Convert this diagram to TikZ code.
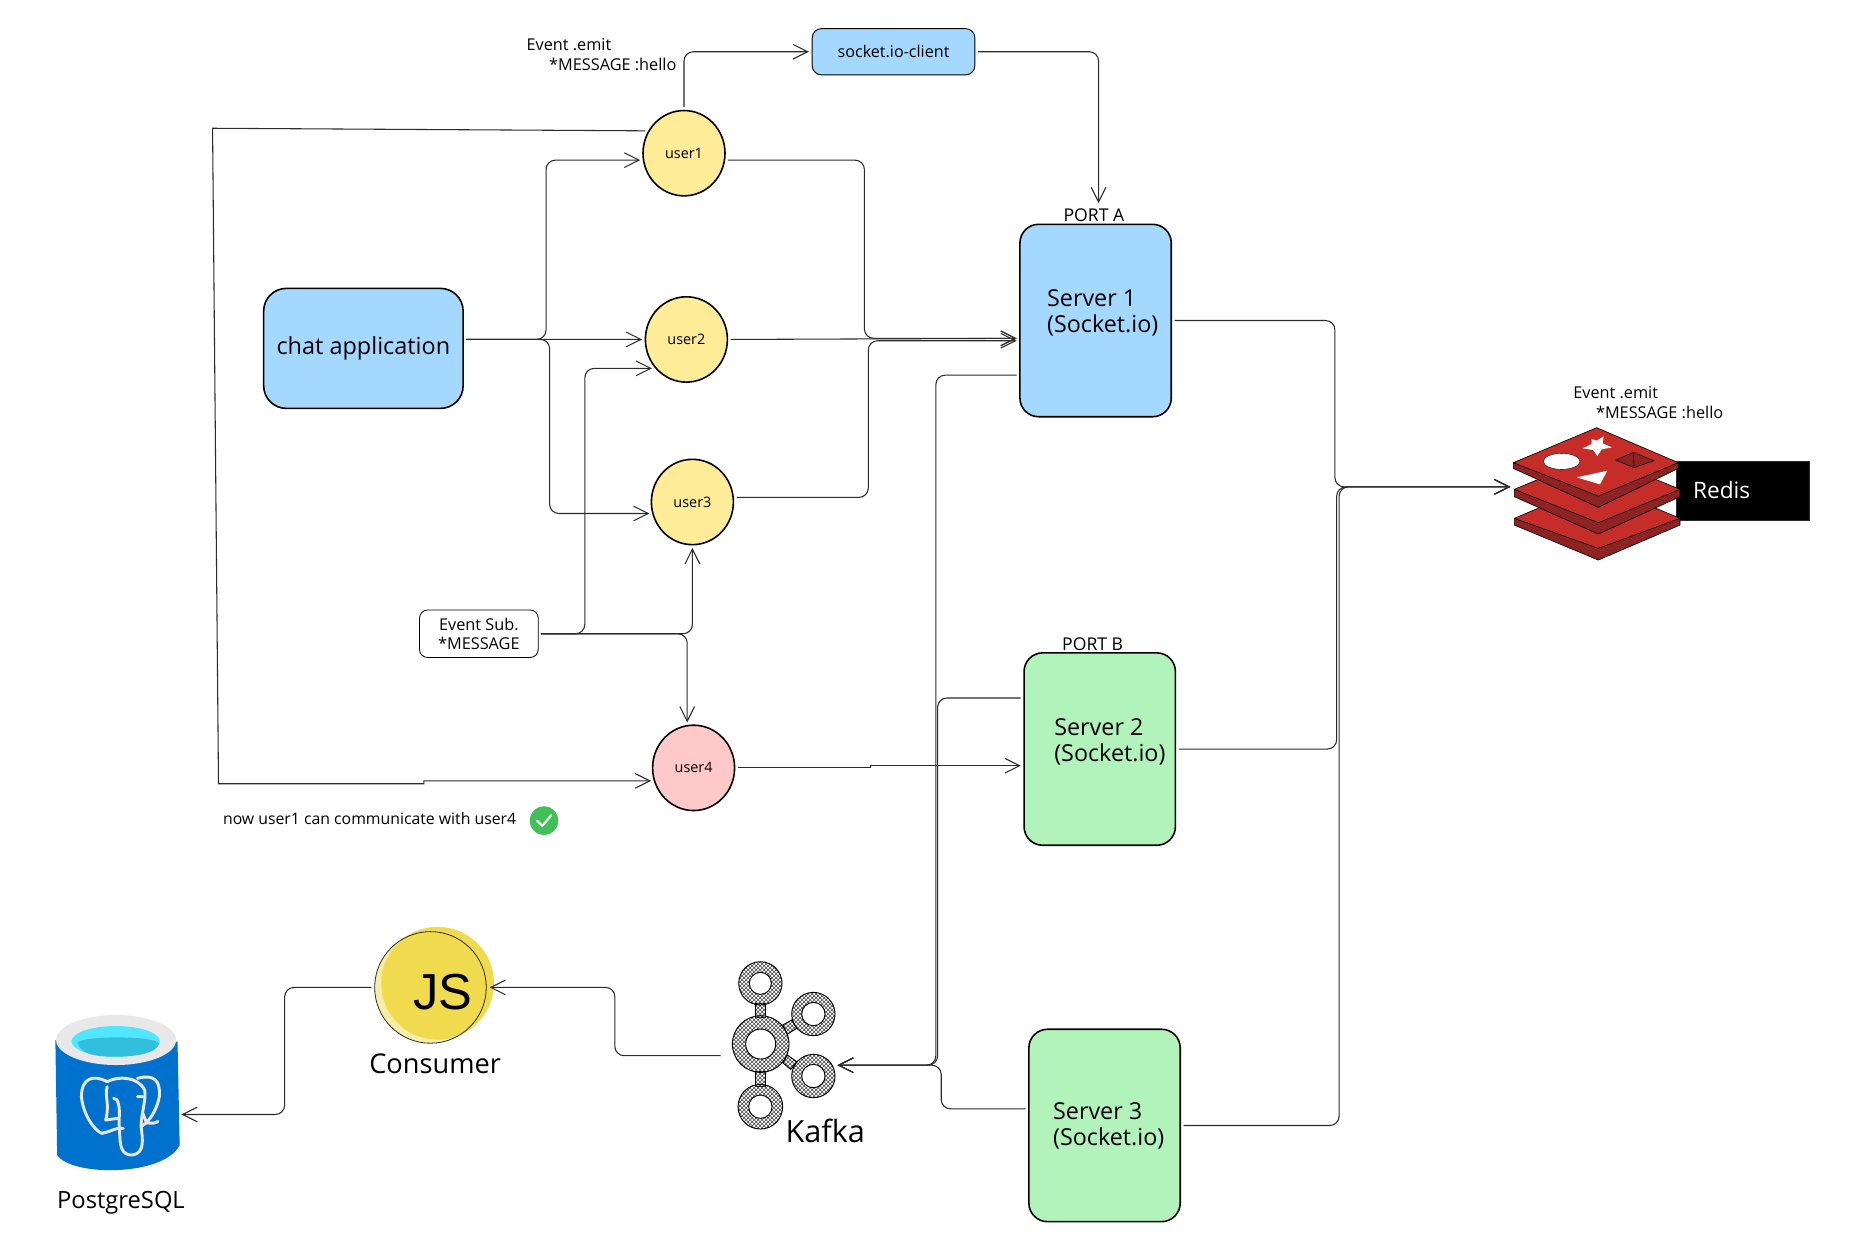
\documentclass[tikz,border=0pt]{standalone}
\usepackage{fontspec}
\setmainfont{Open Sans}
\newfontfamily\jsfont{Liberation Sans}
\usetikzlibrary{shapes.geometric, arrows.meta, positioning, calc, patterns}
\definecolor{inkline}{HTML}{2B2B2B}
\definecolor{skyfill}{HTML}{A5D8FF}
\definecolor{mintfill}{HTML}{B2F2BB}
\definecolor{sandfill}{HTML}{FFEC99}
\definecolor{rosefill}{HTML}{FFC9C9}
\definecolor{okgreen}{HTML}{40C057}
\definecolor{jsyellow}{HTML}{F0DB4F}
\definecolor{jspale}{HTML}{F8EDA8}
\definecolor{pgblue}{HTML}{0072CE}
\definecolor{pgring}{HTML}{E8E8E8}
\definecolor{pgcyan}{HTML}{50E6FF}
\definecolor{pgteal}{HTML}{32BEDD}
\definecolor{redisred}{HTML}{C62D28}
\definecolor{redisdark}{HTML}{8F2323}
\tikzset{
  >={Straight Barb[length=11pt,width=11pt]},
  link/.style={->, draw=inkline, line width=.8pt, rounded corners=7pt},
  userdot/.style={ellipse, draw=black, line width=1.2pt, inner sep=0pt, outer sep=2.5pt,
    minimum width=61.5pt, minimum height=64pt, font=\fontsize{10.8}{12}\selectfont},
  srvbox/.style={rectangle, draw=black, line width=1.2pt, rounded corners=14pt, inner sep=0pt,
    outer sep=2.5pt, minimum width=113.5pt, minimum height=144.3pt},
  srvtext/.style={inner sep=0pt, align=left, font=\fontsize{17.5}{19.6}\selectfont},
  smalltag/.style={inner sep=0pt, align=left, font=\fontsize{12.2}{14.5}\selectfont},
  plate/.style={fill=redisred, draw=black, line width=.5pt, line join=round},
  plateside/.style={fill=redisdark, draw=black, line width=.5pt, line join=round},
  ring/.style={pattern=crosshatch, pattern color=black!75, draw=black, line width=.7pt, even odd rule},
  trunkline/.style={draw=pgring, line width=2.2pt, line cap=round, line join=round},
}
\begin{document}
\begin{tikzpicture}[x=0.890625pt,y=-0.890625pt]
  \useasboundingbox (0,0) rectangle (1568,1049.25);

  \node (user1) at (576,129) [userdot, fill=sandfill] {user1};
  \node (user2) [userdot, fill=sandfill, below=70.7pt of user1, xshift=1.8pt] {user2};
  \node (user3) [userdot, fill=sandfill, below=52.9pt of user2, xshift=4.5pt] {user3};
  \node (user4) [userdot, fill=rosefill, below=130.4pt of user3, xshift=.9pt] {user4};
  \node (app) [draw=black, line width=1.2pt, fill=skyfill, rounded corners=17pt, inner sep=0pt, outer sep=2.5pt,
    minimum width=149.6pt, minimum height=90pt, font=\fontsize{17.6}{18}\selectfont,
    left=131.7pt of user2, yshift=-6.7pt] {chat application};
  \node (socket) [draw=black, line width=.7pt, fill=skyfill, rounded corners=7pt, inner sep=0pt, outer sep=2.5pt,
    minimum width=122pt, minimum height=34.7pt, font=\fontsize{12.1}{13}\selectfont,
    right=60.4pt of user1, yshift=76.1pt] {socket.io-client};
  \node (srv1) [srvbox, fill=skyfill, right=214.4pt of user2, yshift=14.2pt,
    label={[srvtext, xshift=5.3pt, yshift=5.4pt]center:Server 1\\(Socket.io)}] {};
  \node (srv2) [srvbox, fill=mintfill, below=172.1pt of srv1, xshift=3.1pt,
    label={[srvtext, xshift=7.6pt, yshift=5.4pt]center:Server 2\\(Socket.io)}] {};
  \node (srv3) [srvbox, fill=mintfill, below=133pt of srv2, xshift=3.6pt,
    label={[srvtext, xshift=3.1pt, yshift=-.4pt]center:Server 3\\(Socket.io)}] {};
  \node (porta) [inner sep=0pt, font=\fontsize{13.2}{14}\selectfont, above=-1pt of srv1, xshift=-1.3pt] {PORT A};
  \node (portb) [inner sep=0pt, font=\fontsize{13.2}{14}\selectfont, above=-1pt of srv2, xshift=-5.3pt] {PORT B};
  \node (event) [draw=black, line width=.6pt, fill=white, rounded corners=6pt, inner sep=0pt, outer sep=2pt,
    minimum width=89pt, minimum height=35.6pt, smalltag, align=center,
    left=80.4pt of user3, yshift=-98.8pt] {Event Sub.\\*MESSAGE};
  \node (emitone) [smalltag, above=27.5pt of user1, xshift=-61.9pt] {Event .emit\\\hspace*{17pt}*MESSAGE :hello};

  \node (note) [inner sep=0pt, font=\fontsize{11.85}{13}\selectfont, below=-1.5pt of user4, xshift=-243pt] {now user1 can communicate with user4};
  \node (done) [circle, fill=okgreen, inner sep=0pt, minimum size=21.4pt, right=9.8pt of note, yshift=-1.8pt] {};
  \draw [white, line width=1.6pt, line cap=round, line join=round]
    ($(done)+(-6,0)$) -- ($(done)+(-1.5,4.5)$) -- ($(done)+(6,-4.5)$);

  \node (redisbar) at (1467.8,413) [fill=black, draw=inkline, inner sep=0pt, minimum width=99.5pt, minimum height=44.5pt,
    label={[white, font=\fontsize{17}{18}\selectfont, xshift=-16pt]center:Redis}] {};
  \node (redis) at (1344,410) [inner sep=0pt, minimum width=128.2pt, minimum height=106.9pt] {};
  \node (emittwo) [smalltag, above=-2.5pt of redis, xshift=39.2pt] {Event .emit\\\hspace*{17pt}*MESSAGE :hello};
  \begin{scope}[shift={(1246.3,311.6)}, scale=.2807]
    \path [plateside] (103,445) -- (103,465) -- (355,570) -- (600,465) -- (600,445) -- cycle;
    \path [plate] (103,445) -- (350,340) -- (600,445) -- (355,535) -- cycle;
    \path [plateside] (103,358) -- (103,380) -- (355,492) -- (600,380) -- (600,358) -- cycle;
    \path [plate] (103,358) -- (350,255) -- (600,358) -- (355,458) -- cycle;
    \path [plateside] (100,278) -- (100,295) -- (355,412) -- (595,295) -- (595,278) -- cycle;
    \path [plate] (100,278) -- (350,173) -- (595,278) -- (355,378) -- cycle;
    \fill [white, draw=black, line width=.3pt] (245,274) circle [x radius=55, y radius=24];
    \fill [white] (335,207) -- (350,212) -- (371,199) -- (368,220) -- (396,232) -- (365,238)
      -- (352,258) -- (340,240) -- (308,235) -- (335,222) -- cycle;
    \fill [white] (290,322) -- (382,302) -- (360,343) -- cycle;
    \path [fill=redisdark, draw=black, line width=.4pt] (407,270) -- (460,247) -- (522,272) -- (462,293) -- cycle;
    \draw [black, line width=.4pt] (460,247) -- (462,293);
  \end{scope}

  \node (kafka) at (656,880) [inner sep=0pt, minimum width=87.3pt, minimum height=124.7pt] {};
  \node (kafkaname) [inner sep=0pt, font=\fontsize{23}{25}\selectfont, below=-7pt of kafka, xshift=34.7pt] {Kafka};
  \begin{scope}[shift={(589.5,791.6)}, scale=.2807]
    \path [ring] (167,190) rectangle (195,232);
    \path [ring] (167,395) rectangle (195,438);
    \path [ring] (248,255) -- (275,240) -- (290,265) -- (262,282) -- cycle;
    \path [ring] (262,345) -- (290,365) -- (272,388) -- (248,368) -- cycle;
    \path [ring] (182,312) circle [radius=85] (182,312) circle [radius=45];
    \path [ring] (181,130) circle [radius=65] (181,130) circle [radius=33];
    \path [ring] (340,222) circle [radius=65] (340,222) circle [radius=35];
    \path [ring] (340,408) circle [radius=65] (340,408) circle [radius=35];
    \path [ring] (181,500) circle [radius=67] (181,500) circle [radius=35];
  \end{scope}

  \coordinate (jsspot) at (362.5,831.5);
  \fill [jspale] (jsspot) circle [radius=47];
  \fill [jsyellow] ($(jsspot)+(6,-3.5)$) circle [radius=47.5];
  \node (js) at (jsspot) [circle, draw=inkline, line width=.6pt, inner sep=0pt, outer sep=2.5pt, minimum size=83.7pt,
    label={[font=\jsfont\fontsize{38}{40}\selectfont, xshift=9.5pt, yshift=-3.5pt]center:JS}] {};
  \node (consumer) [inner sep=0pt, font=\fontsize{20.4}{24}\selectfont, below=5pt of js, xshift=3.5pt] {Consumer};

  \node (pg) at (98.5,920.5) [inner sep=0pt, outer sep=2.5pt, minimum width=91.7pt, minimum height=116.7pt] {};
  \node (pgname) [inner sep=0pt, font=\fontsize{17.8}{20}\selectfont, below=12.5pt of pg, xshift=3pt] {PostgreSQL};
  \begin{scope}[shift={(0,757.9)}, xscale=.3008, yscale=.2807]
    \fill [pgblue] (155,420) -- (160,765) .. controls (200,830) and (460,830) .. (503,735) -- (497,425) -- cycle;
    \fill [pgring] (325,420) circle [x radius=168, y radius=75];
    \fill [pgcyan] (324,424) circle [x radius=124, y radius=46];
    \fill [pgteal] (218,428) .. controls (225,408) and (430,405) .. (445,430)
      .. controls (440,460) and (380,470) .. (320,470) .. controls (260,470) and (225,460) .. (218,428) -- cycle;
    \draw [trunkline] (300,545) .. controls (260,522) and (228,535) .. (228,590)
      .. controls (232,640) and (262,690) .. (285,700) .. controls (310,695) and (330,680) .. (345,685);
    \draw [trunkline] (300,545) .. controls (330,528) and (385,528) .. (405,570)
      .. controls (410,600) and (395,640) .. (395,680) .. controls (400,720) and (405,760) .. (370,765)
      .. controls (340,765) and (335,740) .. (335,690) .. controls (330,660) and (340,630) .. (328,600);
    \draw [trunkline] (385,535) .. controls (430,522) and (450,540) .. (446,590)
      .. controls (440,625) and (425,650) .. (410,668) .. controls (425,672) and (440,668) .. (442,664);
    \draw [trunkline] (300,560) .. controls (292,590) and (308,610) .. (296,660);
    \draw [trunkline] (296,660) -- (330,655);
    \draw [trunkline] (385,590) -- (400,590) (400,640) -- (410,668) -- (395,680);
    \draw [trunkline] (318,595) -- (328,600);
  \end{scope}

  \draw [link] (user1.north) |- (socket.west);
  \draw [link] (socket.east) -| ($(srv1.north)+(2.5,-15)$);
  \draw [link] (app.5) -- ++(67,0) |- (user1.189);
  \draw [link] (app.5) -- (user2.west);
  \draw [link] (app.5) -- ++(70,0) |- (user3.195);
  \draw [link] (user1.-9) -- ++(115,0) |- ($(srv1.west)+(0,15)$);
  \draw [link] (user2.east) -- ($(srv1.west)+(0,15)$);
  \draw [link] (user3.6) -- ++(111,0) |- ($(srv1.west)+(0,17)$);
  \draw [link] (event.east) -- ++(37,0) |- (user2.220);
  \draw [link] (event.east) -| (user3.south);
  \draw [link] (event.east) -| (user4.98);
  \coordinate (looptop) at (179,108);
  \coordinate (loopbot) at (184,660);
  \draw [link, rounded corners=0pt] (user1.150) -- (looptop) -- (loopbot) -- ++(173,0) |- (user4.197);
  \draw [link, rounded corners=0pt] (user4.east) -- ++(112,0) |- ($(srv2.west)+(0,14)$);
  \coordinate (kafkain) at ($(kafka.east)+(0,17)$);
  \draw [link] ($(srv1.west)+(0,46)$) -- ++(-68,0) |- (kafkain);
  \draw [link] ($(srv2.west)+(0,-43)$) -- ++(-70,0) |- (kafkain);
  \draw [link] ($(srv3.west)+(0,-14)$) -- ++(-71,0) |- (kafkain);
  \draw [link] (srv1.east) -- ++(135,0) |- (redis.west);
  \draw [link] (srv2.east) -- ++(133,0) |- (redis.west);
  \draw [link] (srv3.east) -- ++(131,0) |- (redis.west);
  \draw [link] ($(kafka.west)+(0,9)$) -- ++(-89,0) |- (js.east);
  \draw [link] (js.west) -- ++(-73,0) |- ($(pg.east)+(0,18)$);
\end{tikzpicture}
\end{document}
